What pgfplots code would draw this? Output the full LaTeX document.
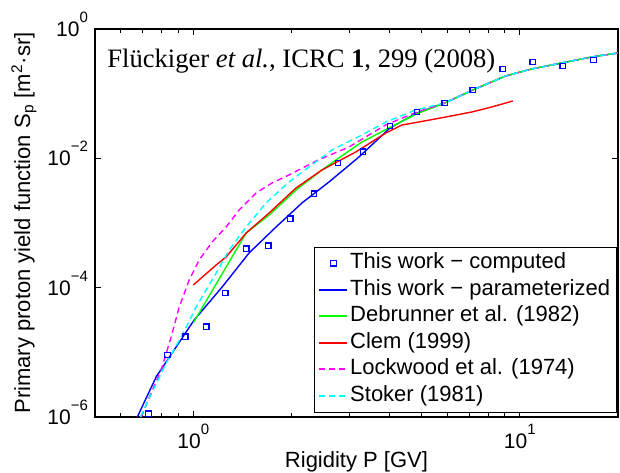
\documentclass[border=0pt]{standalone}
\usepackage{fontspec}
\setmainfont{Liberation Sans}
\newfontfamily\seriffont{Liberation Serif}
\usepackage{pgfplots}
\pgfplotsset{compat=1.18}
\definecolor{mblue}{rgb}{0,0,1}
\definecolor{mgreen}{rgb}{0,1,0}
\definecolor{mred}{rgb}{1,0,0}
\definecolor{mmag}{rgb}{1,0,1}
\definecolor{mcyan}{rgb}{0,1,1}
\newcommand{\tl}[1]{10\raisebox{7pt}{\fontsize{7.5}{8}\selectfont #1}}
\begin{document}
\begin{tikzpicture}
\path[use as bounding box] (-47.5pt,-27.5pt) rectangle (262.5pt,208.5pt);
\begin{axis}[at={(0pt,0pt)}, anchor=south west, scale only axis,
  width=261.5pt, height=194pt,
  xmode=log, ymode=log, xmin=0.5, xmax=20, ymin=1e-6, ymax=1,
  xtick={1,10}, xticklabels={\tl{0},\tl{1}},
  minor xtick={0.6,0.7,0.8,0.9,2,3,4,5,6,7,8,9},
  ytick={1e-6,1e-4,1e-2,1}, yticklabels={\tl{−6},\tl{−4},\tl{−2},\tl{0}},
  minor ytick={},
  tick align=inside, xtick pos=both, ytick pos=both,
  xticklabel pos=lower, yticklabel pos=left,
  major tick length=3pt, minor tick length=2pt,
  axis line style={black, line width=0.6pt},
  every tick/.style={black, line width=0.5pt},
  tick label style={font=\fontsize{10.5}{12}\selectfont},
  yticklabel style={anchor=base east, yshift=-3.7pt},
  xlabel={Rigidity P [GV]},
  ylabel={Primary proton yield function S\textsubscript{p} [m\textsuperscript{2}·sr]},
  label style={font=\fontsize{11}{13}\selectfont},
  xlabel style={at={(axis description cs:0.5,-0.131)}, anchor=base},
  ylabel style={at={(axis description cs:-0.1358,0.5)}, anchor=center},
  legend cell align=left,
  legend image code/.code={\draw[mark repeat=2,mark phase=2,#1,line width=0.8pt] plot coordinates {(0pt,0pt) (7pt,0pt) (14pt,0pt)};},
  legend style={at={(rel axis cs:0.997,0.012)}, anchor=south east,
    font=\fontsize{11}{13}\selectfont, inner xsep=2pt, inner ysep=1.5pt,
    row sep=0pt, nodes={inner sep=1pt, text height=8.5pt, text depth=2.75pt}},
]
\addplot[only marks, mark=square, mark size=1.4pt, draw=mblue, mark options={line width=0.6pt, draw=mblue}] table {
0.729 1.12e-6
0.833 9.1e-6
0.945 1.74e-5
1.096 2.48e-5
1.253 8.3e-5
1.453 3.98e-4
1.696 4.43e-4
1.980 1.16e-3
2.344 2.82e-3
2.776 8.49e-3
3.311 1.26e-2
4.003 3.17e-2
4.842 5.21e-2
5.896 7.18e-2
7.18 0.114
8.87 0.241
10.96 0.309
13.54 0.268
16.83 0.332
};
\addlegendentry{This work − computed}
\addplot[draw=mblue, line width=0.7pt, no marks] table {
0.674 1e-6
0.770 4.18e-6
0.887 1.22e-5
1.007 3.18e-5
1.227 1.03e-4
1.483 3.45e-4
1.794 8.7e-4
2.154 2.05e-3
2.606 4.32e-3
3.218 1.05e-2
4.003 2.95e-2
4.842 5.03e-2
5.896 7.18e-2
7.18 0.114
9.06 0.188
10.88 0.241
13.44 0.298
16.6 0.369
20 0.426
};
\addlegendentry{This work − parameterized}
\addplot[draw=mgreen, line width=0.7pt, no marks] table {
1.0 2.86e-5
1.453 7.03e-4
1.708 1.33e-3
2.065 3.25e-3
2.480 6.62e-3
2.737 9.45e-3
3.286 1.79e-2
3.975 2.95e-2
4.842 4.9e-2
5.896 7.18e-2
7.18 0.114
9.06 0.188
10.88 0.241
13.44 0.298
16.6 0.369
20 0.426
};
\addlegendentry{Debrunner et al. (1982)}
\addplot[draw=mred, line width=0.7pt, no marks] table {
1.0 1.10e-4
1.176 2.25e-4
1.261 2.99e-4
1.453 7.03e-4
1.708 1.43e-3
2.065 3.49e-3
2.480 6.62e-3
3.151 1.26e-2
3.892 2.47e-2
4.357 3.28e-2
4.91 3.65e-2
5.94 4.36e-2
7.13 5.21e-2
8.21 6.23e-2
9.52 7.71e-2
};
\addlegendentry{Clem (1999)}
\addplot[draw=mmag, line width=0.7pt, no marks, dash pattern=on 3pt off 2pt] table {
0.693 1e-6
0.734 2.05e-6
0.798 5.37e-6
0.856 1.74e-5
0.906 5.05e-5
0.972 1.32e-4
1.043 2.69e-4
1.143 5.1e-4
1.261 8.7e-4
1.382 1.59e-3
1.558 2.92e-3
1.744 4.17e-3
1.966 5.54e-3
2.378 9.1e-3
3.0 1.5e-2
3.892 3.3e-2
4.842 5.21e-2
5.896 7.18e-2
7.18 0.114
9.06 0.188
10.88 0.241
13.44 0.298
16.6 0.369
20 0.426
};
\addlegendentry{Lockwood et al. (1974)}
\addplot[draw=mcyan, line width=0.7pt, no marks, dash pattern=on 3pt off 2pt] table {
0.689 1e-6
0.734 1.98e-6
0.827 6.88e-6
0.919 1.74e-5
1.021 5.05e-5
1.143 1.32e-4
1.289 3.84e-4
1.453 8.7e-4
1.672 2.05e-3
1.966 4.32e-3
2.263 7.36e-3
2.661 1.35e-2
3.286 2.30e-2
3.892 3.65e-2
4.808 5.60e-2
5.896 7.18e-2
7.18 0.114
9.06 0.188
10.88 0.241
13.44 0.298
16.6 0.369
20 0.426
};
\addlegendentry{Stoker (1981)}
\node[anchor=base west, inner sep=0pt, font=\seriffont\fontsize{13.3}{15}\selectfont]
  at (rel axis cs:0.0229,0.8995) {Flückiger \textit{et al.}, ICRC \textbf{1}, 299 (2008)};
\end{axis}
\end{tikzpicture}
\end{document}
